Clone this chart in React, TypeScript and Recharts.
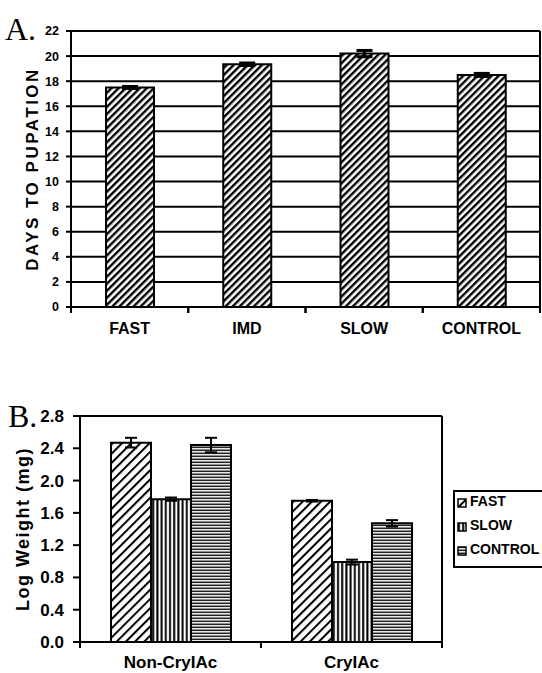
import React from "react";
import { BarChart, Bar, XAxis, YAxis, CartesianGrid, ErrorBar, ReferenceLine, Legend } from "recharts";

// panel A: days to pupation
const STRAINS = ["FAST", "IMD", "SLOW", "CONTROL"];
const DAYS = [17.5, 19.35, 20.2, 18.5];
const DAYS_ERR = [0.08, 0.1, 0.25, 0.12];
const DAY_TICKS = [0, 2, 4, 6, 8, 10, 12, 14, 16, 18, 20, 22];

// panel B: log weight
const DIETS = ["Non-CryIAc", "CryIAc"];
const FAST_W = [2.47, 1.75];
const FAST_ERR = [0.06, 0.01];
const SLOW_W = [1.77, 0.99];
const SLOW_ERR = [0.02, 0.03];
const CONTROL_W = [2.44, 1.47];
const CONTROL_ERR = [0.09, 0.04];
const WEIGHT_TICKS = [0, 0.4, 0.8, 1.2, 1.6, 2.0, 2.4, 2.8];

const dataA = STRAINS.map((name, i) => ({ name, days: DAYS[i], err: DAYS_ERR[i] }));
const dataB = DIETS.map((name, i) => ({
  name,
  fast: FAST_W[i],
  fastErr: FAST_ERR[i],
  slow: SLOW_W[i],
  slowErr: SLOW_ERR[i],
  control: CONTROL_W[i],
  controlErr: CONTROL_ERR[i],
}));

const FONT = "Arial, 'Liberation Sans', Helvetica, sans-serif";
const BLACK = "#000";

// label at the band centre, small tick marks on both band edges
function BandTick(props: any) {
  const { x, y, payload, gap, fontSize, width, visibleTicksCount } = props;
  const half = payload && payload.offset ? payload.offset : width / visibleTicksCount / 2;
  return (
    <g>
      <line x1={x - half} x2={x - half} y1={y} y2={y + 6} stroke={BLACK} strokeWidth={2} />
      <line x1={x + half} x2={x + half} y1={y} y2={y + 6} stroke={BLACK} strokeWidth={2} />
      <text x={x} y={y + gap + fontSize * 0.35} textAnchor="middle" fontFamily={FONT} fontWeight={700} fontSize={fontSize} fill={BLACK}>
        {payload.value}
      </text>
    </g>
  );
}

function WeightLegend() {
  const items = [
    { name: "FAST", fill: "url(#hatchB)" },
    { name: "SLOW", fill: "url(#vertB)" },
    { name: "CONTROL", fill: "url(#horizB)" },
  ];
  return (
    <div style={{ border: "2px solid #000", borderRight: "none", background: "#fff", width: 100, height: 74, fontFamily: FONT }}>
      <div style={{ marginTop: -3, paddingLeft: 2 }}>
        {items.map((it) => (
          <div key={it.name} style={{ display: "flex", alignItems: "center", height: 24, fontSize: 14, fontWeight: 700 }}>
            <svg width={10} height={10} style={{ marginRight: 3, marginTop: 4 }}>
              <rect x={1} y={1} width={8} height={8} fill={it.fill} stroke={BLACK} strokeWidth={1.5} />
            </svg>
            <span>{it.name}</span>
          </div>
        ))}
      </div>
    </div>
  );
}

const letterStyle: React.CSSProperties = {
  position: "absolute",
  fontFamily: "'Liberation Serif', 'Times New Roman', serif",
  fontSize: 32,
  lineHeight: "32px",
  color: BLACK,
};

export default function App() {
  return (
    <div style={{ position: "absolute", left: 0, top: 0, width: 542, height: 673, overflow: "hidden", background: "#fff" }}>
      <svg width={0} height={0} style={{ position: "absolute" }}>
        <defs>
          <pattern id="hatchA" patternUnits="userSpaceOnUse" width={5} height={5} patternTransform="rotate(45)">
            <rect width={5} height={5} fill="#fff" />
            <rect width={2.4} height={5} fill={BLACK} />
          </pattern>
          <pattern id="hatchB" patternUnits="userSpaceOnUse" width={6.5} height={6.5} patternTransform="rotate(45)">
            <rect width={6.5} height={6.5} fill="#fff" />
            <rect width={2} height={6.5} fill={BLACK} />
          </pattern>
          <pattern id="vertB" patternUnits="userSpaceOnUse" width={4.2} height={4}>
            <rect width={4.2} height={4} fill="#fff" />
            <rect x={1} width={2} height={4} fill={BLACK} />
          </pattern>
          <pattern id="horizB" patternUnits="userSpaceOnUse" width={4} height={3}>
            <rect width={4} height={3} fill="#fff" />
            <rect y={0.5} width={4} height={1.6} fill="#222" />
          </pattern>
        </defs>
      </svg>

      <div style={{ ...letterStyle, left: 5, top: 13 }}>A.</div>
      <div style={{ position: "absolute", left: 0, top: 0 }}>
        <BarChart width={542} height={350} data={dataA} margin={{ top: 31, right: 1, left: 0, bottom: 0 }} barSize={48}>
          <CartesianGrid vertical={false} stroke={BLACK} strokeWidth={2} />
          <XAxis
            dataKey="name"
            interval={0}
            height={43}
            tickSize={0}
            tickMargin={0}
            tickLine={false}
            axisLine={{ stroke: BLACK, strokeWidth: 2 }}
            tick={(p: any) => <BandTick {...p} gap={21} fontSize={16} />}
          />
          <YAxis
            width={71}
            domain={[0, 22]}
            ticks={DAY_TICKS}
            interval={0}
            tickSize={5}
            tickMargin={7}
            axisLine={{ stroke: BLACK, strokeWidth: 2 }}
            tickLine={{ stroke: BLACK, strokeWidth: 2 }}
            tick={{ fill: BLACK, fontSize: 12.5, fontWeight: 700, fontFamily: FONT }}
            label={{ value: "DAYS TO PUPATION", angle: -90, position: "center", dx: -4, fill: BLACK, fontSize: 17, fontWeight: 700, fontFamily: FONT, letterSpacing: 2.5 }}
          />
          <YAxis yAxisId="frame" orientation="right" width={1} domain={[0, 22]} tick={false} tickLine={false} axisLine={{ stroke: BLACK, strokeWidth: 2 }} />
          <Bar dataKey="days" fill="url(#hatchA)" stroke={BLACK} strokeWidth={2} isAnimationActive={false}>
            <ErrorBar dataKey="err" width={8} stroke={BLACK} strokeWidth={3} />
          </Bar>
        </BarChart>
      </div>

      <div style={{ ...letterStyle, left: 8, top: 400 }}>B.</div>
      <div style={{ position: "absolute", left: 0, top: 380 }}>
        <BarChart width={542} height={293} data={dataB} margin={{ top: 36, right: 99, left: 0, bottom: 0 }} barSize={40} barGap={0}>
          <XAxis
            dataKey="name"
            interval={0}
            height={31}
            tickSize={0}
            tickMargin={0}
            tickLine={false}
            axisLine={{ stroke: BLACK, strokeWidth: 2 }}
            tick={(p: any) => <BandTick {...p} gap={20} fontSize={17} />}
          />
          <YAxis
            width={80}
            domain={[0, 2.8]}
            ticks={WEIGHT_TICKS}
            interval={0}
            tickFormatter={(v: number) => v.toFixed(1)}
            tickSize={7}
            tickMargin={9}
            axisLine={{ stroke: BLACK, strokeWidth: 2 }}
            tickLine={{ stroke: BLACK, strokeWidth: 2 }}
            tick={{ fill: BLACK, fontSize: 17, fontWeight: 700, fontFamily: FONT }}
            label={{ value: "Log Weight (mg)", angle: -90, position: "center", dx: -17, fill: BLACK, fontSize: 18, fontWeight: 700, fontFamily: FONT, letterSpacing: 1.5 }}
          />
          <YAxis yAxisId="frame" orientation="right" width={1} domain={[0, 2.8]} tick={false} tickLine={false} axisLine={{ stroke: BLACK, strokeWidth: 2 }} />
          <ReferenceLine y={2.8} stroke={BLACK} strokeWidth={2} />
          <Legend
            layout="vertical"
            align="center"
            verticalAlign="middle"
            wrapperStyle={{ left: 453, top: 110, width: 100 }}
            content={() => <WeightLegend />}
          />
          <Bar dataKey="fast" name="FAST" fill="url(#hatchB)" stroke={BLACK} strokeWidth={2} isAnimationActive={false}>
            <ErrorBar dataKey="fastErr" width={6} stroke={BLACK} strokeWidth={2} />
          </Bar>
          <Bar dataKey="slow" name="SLOW" fill="url(#vertB)" stroke={BLACK} strokeWidth={2} isAnimationActive={false}>
            <ErrorBar dataKey="slowErr" width={6} stroke={BLACK} strokeWidth={2} />
          </Bar>
          <Bar dataKey="control" name="CONTROL" fill="url(#horizB)" stroke={BLACK} strokeWidth={2} isAnimationActive={false}>
            <ErrorBar dataKey="controlErr" width={6} stroke={BLACK} strokeWidth={2} />
          </Bar>
        </BarChart>
      </div>
    </div>
  );
}
